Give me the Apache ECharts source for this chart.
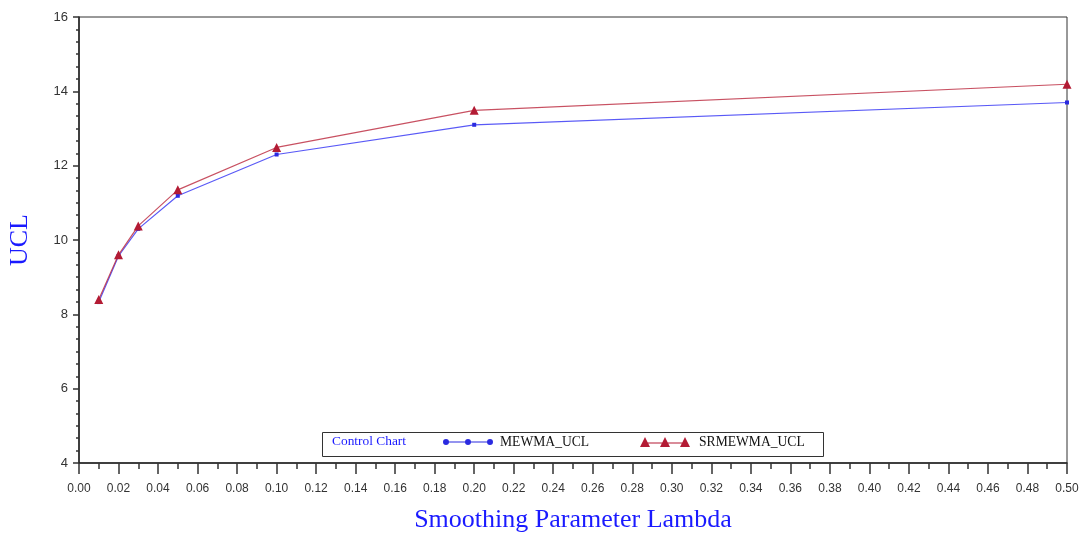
<!DOCTYPE html>
<html>
<head>
<meta charset="utf-8">
<script src="https://cdn.jsdelivr.net/npm/echarts@6/dist/echarts.min.js"></script>
<style>
  html, body { margin: 0; padding: 0; background: #fff; }
  #chart { width: 1080px; height: 533px; }
</style>
</head>
<body>
<div id="chart"></div>
<script>
// Smoothing parameter values (lambda) and upper control limits
const lambdas = [0.01, 0.02, 0.03, 0.05, 0.10, 0.20, 0.50];
const mewmaUcl = [8.33, 9.57, 10.30, 11.19, 12.30, 13.10, 13.70];
const srmewmaUcl = [8.40, 9.60, 10.38, 11.35, 12.49, 13.49, 14.19];
const seriesNames = ['MEWMA_UCL', 'SRMEWMA_UCL'];
const legendTitle = 'Control Chart';
const xTitle = 'Smoothing Parameter Lambda';
const yTitle = 'UCL';

const blue = '#2a2ae0';
const red = '#b31b34';
const serif = '"Liberation Serif", "DejaVu Serif", serif';
const sans = '"Liberation Sans", Arial, sans-serif';

// legend icons: three dots on a line, three triangles on a line
const dotsIcon = 'path://M3 2.5 H47 V3.5 H3 Z M0 3 A3 3 0 1 1 6 3 A3 3 0 1 1 0 3 Z M22 3 A3 3 0 1 1 28 3 A3 3 0 1 1 22 3 Z M44 3 A3 3 0 1 1 50 3 A3 3 0 1 1 44 3 Z';
const triIcon = 'path://M0 10 L5 0 L10 10 Z M20 10 L25 0 L30 10 Z M40 10 L45 0 L50 10 Z M5 5.4 H45 V6.4 H5 Z';

const legendText = { fontFamily: serif, fontSize: 13.6, color: '#111' };

const chart = echarts.init(document.getElementById('chart'));
chart.setOption({
  backgroundColor: '#fff',
  animation: false,
  grid: {
    left: 79, right: 13, top: 17, bottom: 70,
    outerBoundsMode: 'none',
    containLabel: false,
    show: true, borderColor: '#333', borderWidth: 1
  },
  xAxis: {
    type: 'value',
    min: 0, max: 0.5, interval: 0.02,
    name: xTitle,
    nameLocation: 'middle',
    nameGap: 44,
    nameTextStyle: { fontFamily: serif, fontSize: 26, color: '#1a1aff' },
    axisLine: { lineStyle: { color: '#222', width: 1.5 } },
    axisTick: { inside: false, length: 11, lineStyle: { color: '#333', width: 1.5 } },
    minorTick: { show: true, splitNumber: 2, length: 6, lineStyle: { color: '#333', width: 1.5 } },
    splitLine: { show: false },
    axisLabel: {
      margin: 20,
      fontFamily: sans, fontSize: 12, color: '#333',
      formatter: v => v.toFixed(2)
    }
  },
  yAxis: {
    type: 'value',
    min: 4, max: 16, interval: 2,
    name: yTitle,
    nameLocation: 'middle',
    nameGap: 46,
    nameTextStyle: { fontFamily: serif, fontSize: 26, color: '#1a1aff' },
    axisLine: { lineStyle: { color: '#222', width: 1.5 } },
    axisTick: { inside: false, length: 6, lineStyle: { color: '#333', width: 1.5 } },
    minorTick: { show: true, splitNumber: 6, length: 3, lineStyle: { color: '#333', width: 1.5 } },
    splitLine: { show: false },
    axisLabel: { margin: 11, fontFamily: sans, fontSize: 13, color: '#333' }
  },
  legend: [
    {
      data: [{ name: seriesNames[0], icon: dotsIcon }],
      left: 443, top: 435, padding: 0,
      itemWidth: 50, itemHeight: 6, symbolKeepAspect: false,
      textStyle: Object.assign({ padding: [0, 0, 0, 2] }, legendText),
      selectedMode: false
    },
    {
      data: [{ name: seriesNames[1], icon: triIcon }],
      left: 640, top: 435, padding: 0,
      itemWidth: 50, itemHeight: 10, symbolKeepAspect: false,
      textStyle: Object.assign({ padding: [0, 0, 0, 4] }, legendText),
      selectedMode: false
    }
  ],
  graphic: [
    {
      type: 'rect',
      shape: { x: 322.5, y: 432.5, width: 501, height: 24 },
      style: { fill: '#fff', stroke: '#333', lineWidth: 1 },
      z: 0
    },
    {
      type: 'text',
      left: 332, top: 435,
      style: { text: legendTitle, fill: '#1a1aff', font: '13.4px ' + serif },
      z: 10
    }
  ],
  series: [
    {
      name: seriesNames[0],
      type: 'line',
      data: lambdas.map((x, i) => [x, mewmaUcl[i]]),
      symbol: 'rect', symbolSize: 4,
      lineStyle: { color: 'rgba(60,60,245,0.85)', width: 1.2 },
      itemStyle: { color: blue },
      z: 3
    },
    {
      name: seriesNames[1],
      type: 'line',
      data: lambdas.map((x, i) => [x, srmewmaUcl[i]]),
      symbol: 'triangle', symbolSize: 9,
      lineStyle: { color: 'rgba(190,50,70,0.85)', width: 1.2 },
      itemStyle: { color: red },
      z: 4
    }
  ]
});
</script>
</body>
</html>
